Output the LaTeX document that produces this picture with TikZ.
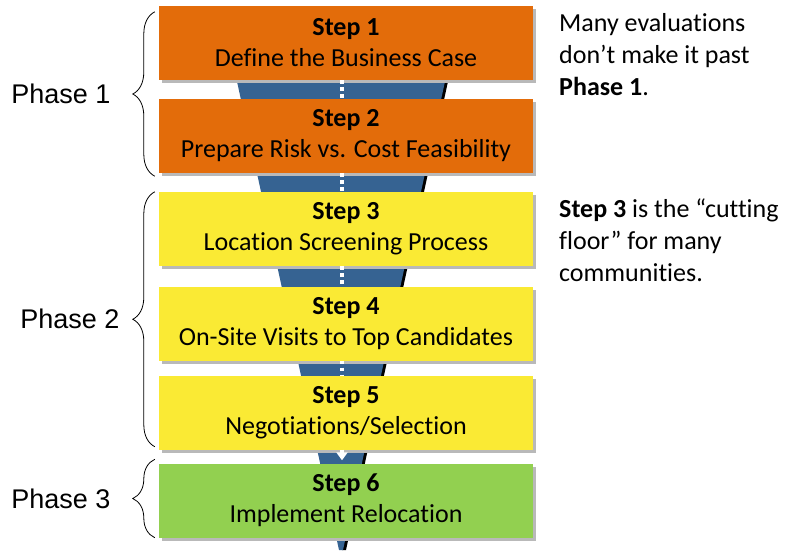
\documentclass[tikz,border=0pt]{standalone}
\usepackage{fontspec}
\setmainfont{Carlito}[Ligatures={NoCommon}]
\newfontfamily\arialf{Liberation Sans}
\usetikzlibrary{positioning,arrows.meta,shadows,decorations.pathreplacing}
\definecolor{steporange}{RGB}{227,108,10}
\definecolor{stepyellow}{RGB}{250,234,52}
\definecolor{stepgreen}{RGB}{146,208,80}
\definecolor{funnelblue}{RGB}{54,99,146}

\begin{document}
\begin{tikzpicture}[x=1pt, y=-1pt,
                    stepbox/.style={minimum width=374pt, minimum height=74pt, inner sep=0pt,
                                    align=center, font=\fontsize{26}{31}\selectfont,
                                    drop shadow={shadow xshift=3pt, shadow yshift=-3pt, fill=gray!55, opacity=1}},
                    flow/.style={white, line width=3.5pt, dash pattern=on 3.5pt off 3.5pt},
                    phasebrace/.style={decorate, decoration={brace, amplitude=22pt}, line width=0.8pt},
                    phaselbl/.style={left=44pt, font=\arialf\fontsize{27}{32}\selectfont, inner sep=0pt},
                    note/.style={anchor=north west, inner sep=0pt, align=left,
                                 font=\fontsize{26}{32}\selectfont}]
  \useasboundingbox (0,0) rectangle (798,550);
  % funnel behind the steps
  \fill[black] (224,8) -- (464,8) -- (346,550) -- (342,550) -- cycle;
  \fill[funnelblue] (221,8) -- (461,8) -- (343,550) -- (339,550) -- cycle;
  \coordinate (axis) at (342,0);
  \node[stepbox, fill=steporange] (s1) at (346,43) {\textbf{Step 1}\\Define the Business Case};
  \node[stepbox, fill=steporange] (s2) at (346,136) {\textbf{Step 2}\\Prepare Risk vs. Cost Feasibility};
  \node[stepbox, fill=stepyellow] (s3) at (346,229) {\textbf{Step 3}\\Location Screening Process};
  \node[stepbox, fill=stepyellow] (s4) at (346,323.5) {\textbf{Step 4}\\On-Site Visits to Top Candidates};
  \node[stepbox, fill=stepyellow] (s5) at (346,412.5) {\textbf{Step 5}\\Negotiations/Selection};
  \node[stepbox, fill=stepgreen] (s6) at (346,500.5) {\textbf{Step 6}\\Implement Relocation};
  \draw[flow] (s1.south -| axis) -- (s2.north -| axis);
  \draw[flow] (s2.south -| axis) -- (s3.north -| axis);
  \draw[flow] (s3.south -| axis) -- (s4.north -| axis);
  \draw[flow] (s4.south -| axis) -- (s5.north -| axis);
  \draw[flow, -{Triangle[width=11pt, length=8pt]}, shorten >=3pt] (s5.south -| axis) -- (s6.north -| axis);
  % phases
  \draw[phasebrace] ([shift={(-4pt,-3pt)}]s2.south west) -- node[phaselbl] (p1) {Phase 1} ([shift={(-4pt,-6pt)}]s1.north west);
  \draw[phasebrace] ([shift={(-4pt,3pt)}]s5.south west) -- node[phaselbl, left=35pt] (p2) {Phase 2} ([xshift=-4pt]s3.north west);
  \draw[phasebrace] ([xshift=-4pt]s6.south west) -- node[phaselbl] (p3) {Phase 3} ([shift={(-4pt,4pt)}]s6.north west);
  % remarks
  \node[note] (n1) at (559,13) {Many evaluations\\don’t make it past\\\textbf{Phase 1}.};
  \node[note] (n2) at (559,199) {\textbf{Step 3} is the “cutting\\floor” for many\\communities.};
\end{tikzpicture}
\end{document}
